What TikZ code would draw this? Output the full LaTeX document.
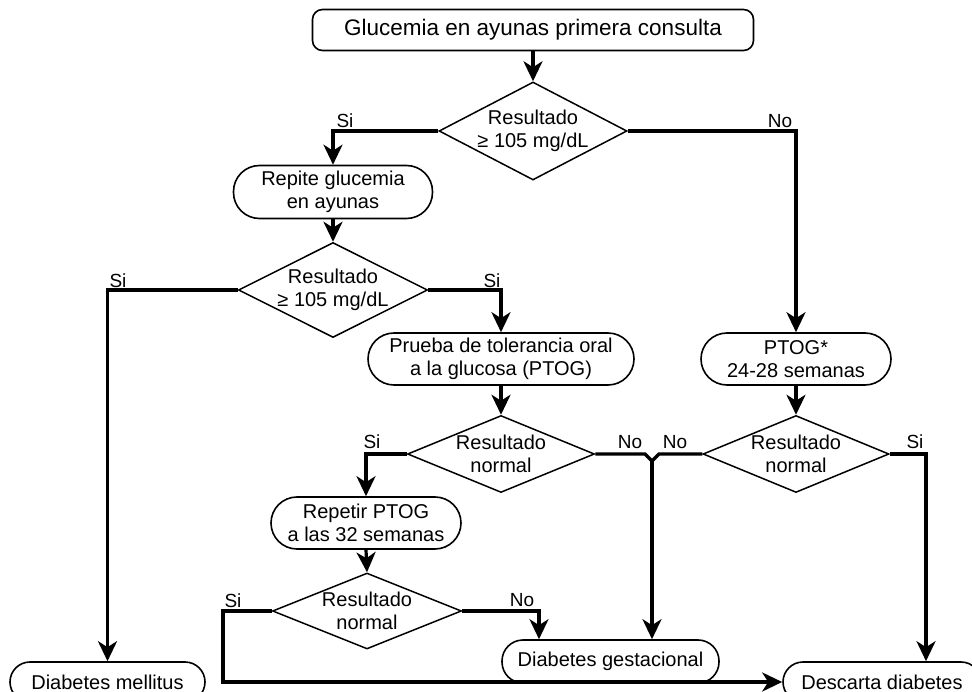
\documentclass[tikz,border=0pt]{standalone}
\usepackage{fontspec}
\setmainfont{Liberation Sans}
\usetikzlibrary{shapes.geometric,arrows.meta}
\newcommand\myfs{\fontsize{20}{23}\selectfont}
\newcommand\myfsL{\fontsize{22.5}{26}\selectfont}
\newcommand\myfsS{\fontsize{19}{22}\selectfont}
\begin{document}
\begin{tikzpicture}[x=1pt,y=-1pt,
  box/.style={draw, line width=1.6pt, rounded corners=#1, align=center, inner sep=0pt, font=\myfs},
  dia/.style={draw, diamond, line width=1.5pt, inner sep=0pt},
  dtxt/.style={align=center, inner sep=0pt, font=\myfs},
  lab/.style={inner sep=0pt, font=\myfsS},
  conn/.style={line width=3.2pt, line join=miter, -{Stealth[length=20pt,width=19pt,inset=6pt]}},
  seg/.style={line width=3.2pt, line join=miter}]
\useasboundingbox (0,0) rectangle (972,692);
\clip (0,0) rectangle (972,692);
% boxes
\node[box=10, minimum width=441, minimum height=41, font=\myfsL] (n1) at (533,30) {Glucemia en ayunas primera consulta};
\node[box=26, minimum width=199, minimum height=53] (r1) at (333,192) {Repite glucemia\\en ayunas};
\node[box=26, minimum width=266, minimum height=52] (p1) at (501,359) {Prueba de tolerancia oral\\a la glucosa (PTOG)};
\node[box=26, minimum width=190, minimum height=52] (t1) at (796,359) {PTOG*\\24-28 semanas};
\node[box=26, minimum width=190, minimum height=52] (rp) at (366,523) {Repetir PTOG\\a las 32 semanas};
\node[box=20, minimum width=195, minimum height=40] (dm) at (107.5,682) {Diabetes mellitus};
\node[box=21, minimum width=217, minimum height=43] (dg) at (610.5,661.5) {Diabetes gestacional};
\node[box=20, minimum width=198, minimum height=40] (dd) at (882,682) {Descarta diabetes};
% diamonds
\node[dia, minimum width=188, minimum height=98] (d1) at (533,131) {};
\node[dtxt] (d1t) at (d1) {Resultado\\≥ 105 mg/dL};
\node[dia, minimum width=189, minimum height=95] (d2) at (333,290) {};
\node[dtxt] (d2t) at (d2) {Resultado\\≥ 105 mg/dL};
\node[dia, minimum width=187, minimum height=77] (d3) at (501,454) {};
\node[dtxt] (d3t) at (d3) {Resultado\\normal};
\node[dia, minimum width=186, minimum height=77] (d4) at (796,454) {};
\node[dtxt] (d4t) at (d4) {Resultado\\normal};
\node[dia, minimum width=189, minimum height=76] (d5) at (367,611) {};
\node[dtxt] (d5t) at (d5) {Resultado\\normal};
% helper coordinates
\coordinate (jl) at (645,454);
\coordinate (jr) at (659,454);
\coordinate (jv) at (652,461);
\coordinate (c4) at (926,0);
\coordinate (c5) at (223,0);
\coordinate (c6) at (539,0);
% connectors
\draw[conn] (n1.south) -- (d1.north);
\draw[conn] (d1.west) -| (r1.north);
\draw[conn] (d1.east) -| (t1.north);
\draw[conn] (r1.south) -- (d2.north);
\draw[conn] (d2.west) -| (dm.north);
\draw[conn] (d2.east) -| (p1.north);
\draw[conn] (p1.south) -- (d3.north);
\draw[conn] (t1.south) -- (d4.north);
\draw[conn] (d3.west) -| (rp.north);
\draw[seg] (d3.east) -- (jl) -- (jv);
\draw[seg] (d4.west) -- (jr) -- (jv);
\draw[conn] (jv) -- (dg.north -| jv);
\draw[conn] (d4.east) -| (c4 |- dd.north);
\draw[conn] (rp.south) -- (d5.north);
\draw[conn] (d5.west) -- (d5.west -| c5) |- (dd.west);
\draw[conn] (d5.east) -| (c6 |- dg.north);
% labels
\node[lab] (l1) at (345,121) {Si};
\node[lab] (l2) at (780,121) {No};
\node[lab] (l3) at (118,281) {Si};
\node[lab] (l4) at (492,281) {Si};
\node[lab] (l5) at (372,442) {Si};
\node[lab] (l6) at (630,442) {No};
\node[lab] (l7) at (675,442) {No};
\node[lab] (l8) at (915,442) {Si};
\node[lab] (l9) at (233,601) {Si};
\node[lab] (l10) at (522,600) {No};
\end{tikzpicture}
\end{document}
